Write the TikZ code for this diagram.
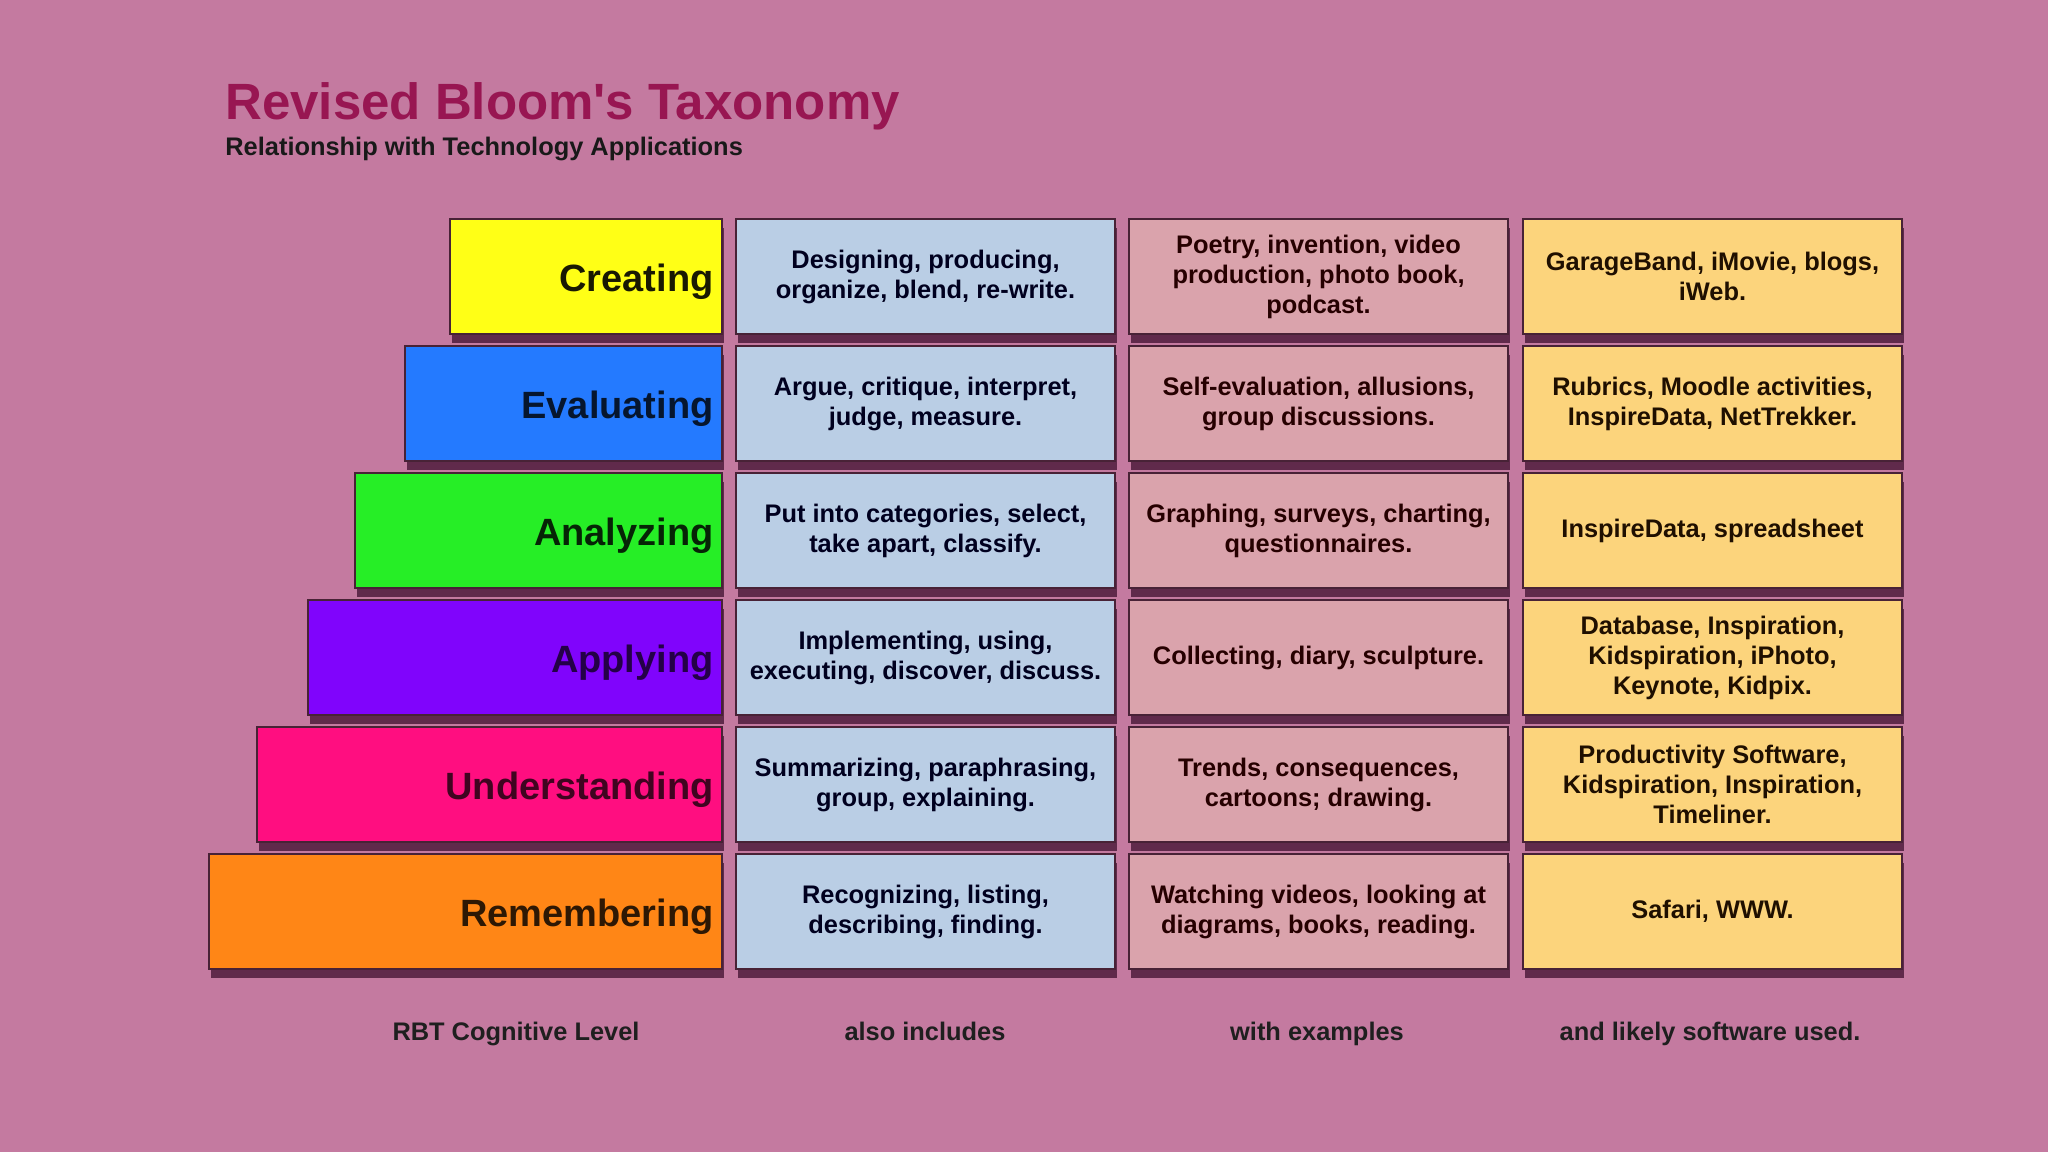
\documentclass[tikz,border=0pt]{standalone}
\usepackage{fontspec}
\setmainfont{Liberation Sans}
\newfontfamily\titlefont[Ligatures=ResetAll]{Liberation Sans}
\usetikzlibrary{shadows}
\definecolor{bgc}{RGB}{196,122,160}
\definecolor{titlec}{RGB}{152,22,82}
\definecolor{cyel}{RGB}{255,255,22}
\definecolor{cblu}{RGB}{36,122,255}
\definecolor{cgrn}{RGB}{38,238,38}
\definecolor{cpur}{RGB}{128,4,252}
\definecolor{cpnk}{RGB}{255,14,128}
\definecolor{corg}{RGB}{255,134,22}
\definecolor{ctwo}{RGB}{186,206,229}
\definecolor{cthree}{RGB}{218,163,172}
\definecolor{cfour}{RGB}{252,212,124}
\definecolor{edgec}{RGB}{72,34,54}
\definecolor{shadc}{RGB}{86,34,66}
\tikzset{
  cellbox/.style={draw=edgec, line width=1pt, anchor=north west, inner sep=0pt,
    minimum height=57.5pt,
    drop shadow={shadow xshift=1pt, shadow yshift=-4.5pt, fill=shadc, opacity=0.9}},
  levelbox/.style={cellbox, fill=#1},
  infobox/.style={cellbox, fill=#1, minimum width=189.5pt},
  celltext/.style={align=center, text=#1, font=\bfseries\fontsize{12.7}{15}\selectfont, inner sep=0pt},
  leveltext/.style={anchor=east, inner sep=0pt, text=#1, font=\bfseries\fontsize{19}{22}\selectfont},
  foottext/.style={anchor=base, inner sep=0pt, font=\bfseries\fontsize{12.7}{15}\selectfont, text=black!88}
}
\begin{document}
\begin{tikzpicture}[x=0.5pt, y=-0.5pt]
\fill[bgc] (0,0) rectangle (2048,1152);
\useasboundingbox (0,0) rectangle (2048,1152);

\node[anchor=base west, inner sep=0pt, text=titlec, font=\titlefont\bfseries\fontsize{25.5}{30}\selectfont] (title) at (225,119) {Revised Bloom's Taxonomy};
\node[anchor=base west, inner sep=0pt, text=black!90, font=\bfseries\fontsize{12.7}{15}\selectfont] (subtitle) at (225,155) {Relationship with Technology Applications};

% level boxes
\node[levelbox=cyel, minimum width=136pt] (L1) at (449,218) {};
\node[levelbox=cblu, minimum width=158.5pt] (L2) at (404,345) {};
\node[levelbox=cgrn, minimum width=183.5pt] (L3) at (354,472) {};
\node[levelbox=cpur, minimum width=207pt] (L4) at (307,599) {};
\node[levelbox=cpnk, minimum width=232.5pt] (L5) at (256,726) {};
\node[levelbox=corg, minimum width=256.5pt] (L6) at (208,853) {};

\node[leveltext=black!90!cyel] (T1) at ([xshift=-4.5pt, yshift=-2.5pt]L1.east) {Creating};
\node[leveltext=black!82!cblu] (T2) at ([xshift=-4.5pt, yshift=-2.5pt]L2.east) {Evaluating};
\node[leveltext=black!85!cgrn] (T3) at ([xshift=-4.5pt, yshift=-2.5pt]L3.east) {Analyzing};
\node[leveltext=black!72!cpur] (T4) at ([xshift=-4.5pt, yshift=-2.5pt]L4.east) {Applying};
\node[leveltext=black!75!cpnk] (T5) at ([xshift=-4.5pt, yshift=-2.5pt]L5.east) {Understanding};
\node[leveltext=black!82!corg] (T6) at ([xshift=-4.5pt, yshift=-2.5pt]L6.east) {Remembering};

% column 2
\node[infobox=ctwo] (A1) at (735,218) {};
\node[infobox=ctwo] (A2) at (735,345) {};
\node[infobox=ctwo] (A3) at (735,472) {};
\node[infobox=ctwo] (A4) at (735,599) {};
\node[infobox=ctwo] (A5) at (735,726) {};
\node[infobox=ctwo] (A6) at (735,853) {};
% column 3
\node[infobox=cthree] (B1) at (1128,218) {};
\node[infobox=cthree] (B2) at (1128,345) {};
\node[infobox=cthree] (B3) at (1128,472) {};
\node[infobox=cthree] (B4) at (1128,599) {};
\node[infobox=cthree] (B5) at (1128,726) {};
\node[infobox=cthree] (B6) at (1128,853) {};
% column 4
\node[infobox=cfour] (C1) at (1522,218) {};
\node[infobox=cfour] (C2) at (1522,345) {};
\node[infobox=cfour] (C3) at (1522,472) {};
\node[infobox=cfour] (C4) at (1522,599) {};
\node[infobox=cfour] (C5) at (1522,726) {};
\node[infobox=cfour] (C6) at (1522,853) {};

\node[celltext=black!80!blue!60!black] (a1) at (A1.center) {Designing, producing,\\organize, blend, re-write.};
\node[celltext=black!80!blue!60!black] (a2) at (A2.center) {Argue, critique, interpret,\\judge, measure.};
\node[celltext=black!80!blue!60!black] (a3) at (A3.center) {Put into categories, select,\\take apart, classify.};
\node[celltext=black!80!blue!60!black] (a4) at (A4.center) {Implementing, using,\\executing, discover, discuss.};
\node[celltext=black!80!blue!60!black] (a5) at (A5.center) {Summarizing, paraphrasing,\\group, explaining.};
\node[celltext=black!80!blue!60!black] (a6) at (A6.center) {Recognizing, listing,\\describing, finding.};

\node[celltext=black!85!red] (b1) at (B1.center) {Poetry, invention, video\\production, photo book,\\podcast.};
\node[celltext=black!85!red] (b2) at (B2.center) {Self-evaluation, allusions,\\group discussions.};
\node[celltext=black!85!red] (b3) at (B3.center) {Graphing, surveys, charting,\\questionnaires.};
\node[celltext=black!85!red] (b4) at (B4.center) {Collecting, diary, sculpture.};
\node[celltext=black!85!red] (b5) at (B5.center) {Trends, consequences,\\cartoons; drawing.};
\node[celltext=black!85!red] (b6) at (B6.center) {Watching videos, looking at\\diagrams, books, reading.};

\node[celltext=black!88!orange] (c1) at (C1.center) {GarageBand, iMovie, blogs,\\iWeb.};
\node[celltext=black!88!orange] (c2) at (C2.center) {Rubrics, Moodle activities,\\InspireData, NetTrekker.};
\node[celltext=black!88!orange] (c3) at (C3.center) {InspireData, spreadsheet};
\node[celltext=black!88!orange] (c4) at (C4.center) {Database, Inspiration,\\Kidspiration, iPhoto,\\Keynote, Kidpix.};
\node[celltext=black!88!orange] (c5) at (C5.center) {Productivity Software,\\Kidspiration, Inspiration,\\Timeliner.};
\node[celltext=black!88!orange] (c6) at (C6.center) {Safari, WWW.};

% footer labels
\node[foottext] (f1) at (516,1040) {RBT Cognitive Level};
\node[foottext] (f2) at (925,1040) {also includes};
\node[foottext] (f3) at (1317,1040) {with examples};
\node[foottext] (f4) at (1710,1040) {and likely software used.};
\end{tikzpicture}
\end{document}
